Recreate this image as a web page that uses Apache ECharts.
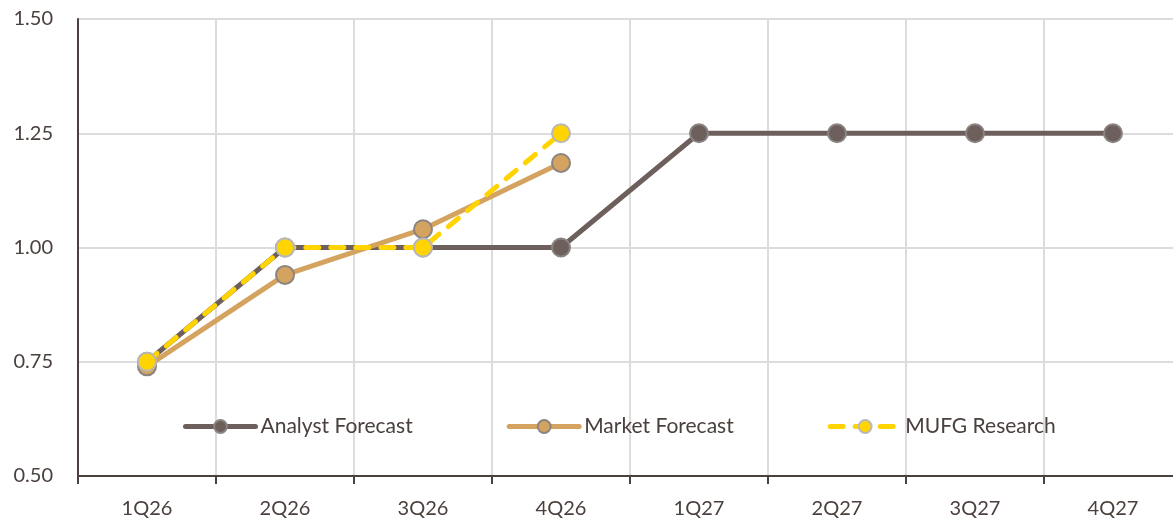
<!DOCTYPE html>
<html>
<head>
<meta charset="utf-8">
<script src="https://cdn.jsdelivr.net/npm/echarts@6/dist/echarts.min.js"></script>
<style>
  html, body { margin: 0; padding: 0; background: #fff; }
  #chart { width: 1173px; height: 522px; }
</style>
</head>
<body>
<div id="chart"></div>
<script>
// Quarterly policy-rate path: analyst view, market pricing and MUFG research
const quarters = ['1Q26', '2Q26', '3Q26', '4Q26', '1Q27', '2Q27', '3Q27', '4Q27'];
const analystForecast = [0.75, 1.00, 1.00, 1.00, 1.25, 1.25, 1.25, 1.25];
const marketForecast = [0.74, 0.94, 1.04, 1.185, null, null, null, null];
const mufgResearch = [0.75, 1.00, 1.00, 1.25, null, null, null, null];
const yTicks = { min: 0.5, max: 1.5, step: 0.25 };

const textColor = '#4a403d';
const fontFamily = 'Lato, "Noto Sans", sans-serif';

const chart = echarts.init(document.getElementById('chart'));

function lineSeries(name, data, color, borderColor, dashed, z) {
  return {
    name: name,
    type: 'line',
    data: data,
    z: z,
    symbol: 'circle',
    symbolSize: 18,
    showAllSymbol: true,
    connectNulls: false,
    lineStyle: { color: color, width: 5, type: dashed ? [13, 12] : 'solid', cap: 'round' },
    itemStyle: { color: color, borderColor: borderColor, borderWidth: 2 },
    emphasis: { disabled: true }
  };
}

chart.setOption({
  animation: false,
  // the plot is a little wider than the canvas, so the last boundary falls off the edge
  grid: { left: 78, width: 1104, top: 19, bottom: 46, containLabel: false, outerBoundsMode: 'none' },
  legend: {
    left: 183,
    top: 416,
    padding: 0,
    itemWidth: 70,
    itemHeight: 16,
    itemGap: 94,
    lineStyle: { width: 5, cap: 'round' },
    textStyle: { color: textColor, fontSize: 21, fontFamily: fontFamily, padding: [0, 0, 0, 0] },
    data: ['Analyst Forecast', 'Market Forecast', 'MUFG Research']
  },
  xAxis: {
    type: 'category',
    data: quarters,
    boundaryGap: true,
    axisLine: { lineStyle: { color: '#4a403d', width: 2 } },
    axisTick: { show: true, alignWithLabel: false, length: 8, lineStyle: { color: '#4a403d', width: 2 } },
    axisLabel: { color: textColor, fontSize: 20, fontFamily: fontFamily, margin: 23 },
    splitLine: { show: true, lineStyle: { color: '#dcdcdc', width: 2 } }
  },
  yAxis: {
    type: 'value',
    min: yTicks.min,
    max: yTicks.max,
    interval: yTicks.step,
    axisLine: { show: true, lineStyle: { color: '#4a403d', width: 2 } },
    axisTick: { show: false },
    axisLabel: {
      color: textColor, fontSize: 20, fontFamily: fontFamily, margin: 25,
      formatter: v => v.toFixed(2)
    },
    splitLine: { show: true, lineStyle: { color: '#dcdcdc', width: 2 } }
  },
  series: [
    lineSeries('Analyst Forecast', analystForecast, '#6d605c', '#8a8482', false, 2),
    lineSeries('Market Forecast', marketForecast, '#d4a35f', '#8a8482', false, 3),
    lineSeries('MUFG Research', mufgResearch, '#ffd400', '#b8b8b8', true, 4)
  ]
});
</script>
</body>
</html>
